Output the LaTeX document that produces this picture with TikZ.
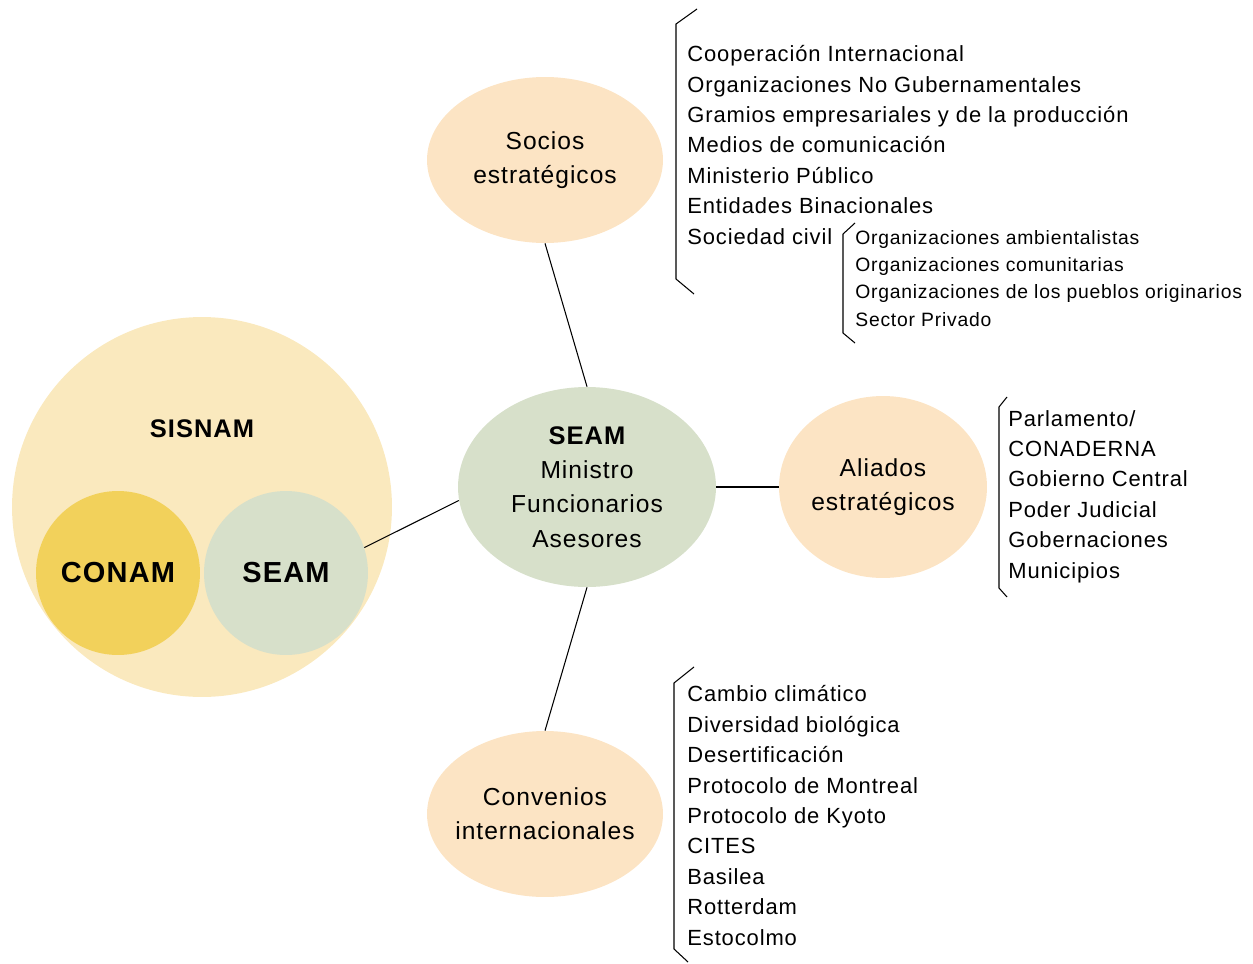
\documentclass[tikz,border=0pt]{standalone}
\usepackage{fontspec}
\setmainfont{Liberation Sans}[LetterSpace=4]
\usetikzlibrary{shapes.geometric}
\definecolor{peach}{HTML}{FCE4C4}
\definecolor{sage}{HTML}{D7E0CA}
\definecolor{sand}{HTML}{FAE9BE}
\definecolor{gold}{HTML}{F2D15B}

\begin{document}
\begin{tikzpicture}[x=0.02cm, y=-0.02cm,
  blob/.style={ellipse, fill=peach, inner sep=-0.2cm, align=center,
               font=\fontsize{14}{19.5}\selectfont},
  disc/.style={circle, inner sep=0pt, minimum size=3.28cm,
               font=\fontsize{16.5}{20}\selectfont\bfseries},
  lista/.style={anchor=base west, align=left, inner sep=0pt,
                font=\fontsize{12.5}{17.3}\selectfont},
  sublista/.style={anchor=base west, align=left, inner sep=0pt,
                   font=\fontsize{11}{15.4}\selectfont},
  enlace/.style={line width=0.6pt},
  llave/.style={line width=0.6pt}]

\useasboundingbox (0,0) rectangle (1253,963);

% SISNAM
\node[circle, fill=sand, minimum size=7.6cm] (sisnam) at (202,507) {};
\node[font=\fontsize{14.5}{16}\selectfont\bfseries] (sisnamt) at (202,429) {SISNAM};
\node[disc, fill=gold] (conam) at (118,573) {CONAM};
\node[disc, fill=sage] (seamc) at (286,573) {SEAM};

% centro
\node[blob, fill=sage, minimum width=5.16cm, minimum height=4cm]
(seam) at (587,487) {{\fontsize{14.5}{19.5}\selectfont\bfseries SEAM}\\Ministro\\Funcionarios\\Asesores};

\node[blob, minimum width=4.72cm, minimum height=3.32cm]
(socios) at (545,160) {Socios\\estratégicos};
\node[blob, minimum width=4.16cm, minimum height=3.64cm]
(aliados) at (883,487) {Aliados\\estratégicos};
\node[blob, minimum width=4.72cm, minimum height=3.32cm]
(convenios) at (545,814) {Convenios\\internacionales};

\draw[enlace] (seamc.18) -- (seam.186);
\draw[enlace] (socios.south) -- (seam.north);
\draw[enlace] (seam.east) -- (aliados.west);
\draw[enlace] (seam.south) -- (convenios.north);

% listas (base = ultima linea)
\node[lista] (lsocios) at (687,244) {Cooperación Internacional\\
Organizaciones No Gubernamentales\\
Gramios empresariales y de la producción\\
Medios de comunicación\\
Ministerio Público\\
Entidades Binacionales\\
Sociedad civil};
\node[sublista] (lcivil) at (855,326) {Organizaciones ambientalistas\\
Organizaciones comunitarias\\
Organizaciones de los pueblos originarios\\
Sector Privado};
\node[lista] (laliados) at (1008,578) {Parlamento/\\
CONADERNA\\
Gobierno Central\\
Poder Judicial\\
Gobernaciones\\
Municipios};
\node[lista] (lconvenios) at (687,945) {Cambio climático\\
Diversidad biológica\\
Desertificación\\
Protocolo de Montreal\\
Protocolo de Kyoto\\
CITES\\
Basilea\\
Rotterdam\\
Estocolmo};

% llaves
\draw[llave] (697,9) -- (676,24) -- (676,279) -- (694,294);
\draw[llave] (855,223) -- (843,234) -- (843,333) -- (855,343);
\draw[llave] (1007,397) -- (999,407) -- (999,588) -- (1007,597);
\draw[llave] (694,667) -- (674,683) -- (674,949) -- (688,962);

\end{tikzpicture}
\end{document}
